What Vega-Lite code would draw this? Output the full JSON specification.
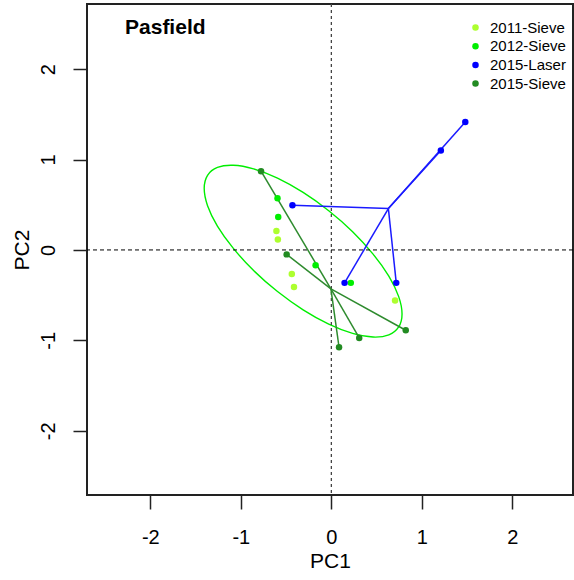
{
  "$schema": "https://vega.github.io/schema/vega-lite/v6.json",
  "width": 486,
  "height": 491,
  "autosize": {"type": "none"},
  "padding": {"left": 87, "top": 4, "right": 1, "bottom": 85},
  "background": "white",
  "config": {
    "view": {"stroke": "#222", "strokeWidth": 2},
    "font": "Liberation Sans",
    "axis": {"grid": false, "domain": false, "ticks": true, "tickColor": "#222", "tickWidth": 1.5, "tickSize": 14,
      "labelFont": "Liberation Sans", "labelFontSize": 20, "labelColor": "#000",
      "labelExpr": "datum.value < 0 ? '-' + (-datum.value) : '' + datum.value",
      "titleFont": "Liberation Sans", "titleFontSize": 21, "titleFontWeight": "normal", "titleColor": "#000"},
    "axisX": {"labelPadding": 18, "labelAngle": 0, "titleBaseline": "alphabetic", "titleY": 72},
    "axisY": {"labelAngle": -90, "labelAlign": "center", "labelBaseline": "bottom", "labelPadding": 15, "titleAngle": -90, "titleBaseline": "alphabetic", "titleX": -59}
  },
  "datasets": {
    "pts": [
      {"group": "2011-Sieve", "x": -0.607, "y": 0.209},
      {"group": "2011-Sieve", "x": -0.591, "y": 0.115},
      {"group": "2011-Sieve", "x": -0.437, "y": -0.266},
      {"group": "2011-Sieve", "x": -0.413, "y": -0.409},
      {"group": "2011-Sieve", "x": 0.704, "y": -0.56},
      {"group": "2012-Sieve", "x": -0.595, "y": 0.573},
      {"group": "2012-Sieve", "x": -0.587, "y": 0.364},
      {"group": "2012-Sieve", "x": -0.174, "y": -0.168},
      {"group": "2012-Sieve", "x": 0.215, "y": -0.364},
      {"group": "2015-Laser", "x": 1.48, "y": 1.415, "cx": 0.63, "cy": 0.458},
      {"group": "2015-Laser", "x": 1.21, "y": 1.1, "cx": 0.63, "cy": 0.458},
      {"group": "2015-Laser", "x": -0.43, "y": 0.495, "cx": 0.63, "cy": 0.458},
      {"group": "2015-Laser", "x": 0.146, "y": -0.364, "cx": 0.63, "cy": 0.458},
      {"group": "2015-Laser", "x": 0.717, "y": -0.364, "cx": 0.63, "cy": 0.458},
      {"group": "2015-Sieve", "x": -0.777, "y": 0.871, "cx": -0.005, "cy": -0.43},
      {"group": "2015-Sieve", "x": -0.494, "y": -0.049, "cx": -0.005, "cy": -0.43},
      {"group": "2015-Sieve", "x": 0.085, "y": -1.076, "cx": -0.005, "cy": -0.43},
      {"group": "2015-Sieve", "x": 0.308, "y": -0.973, "cx": -0.005, "cy": -0.43},
      {"group": "2015-Sieve", "x": 0.822, "y": -0.888, "cx": -0.005, "cy": -0.43}
    ],
    "ellipse": [
      {"t": 0, "x": 0.781, "y": -0.708},
      {"t": 1, "x": 0.744, "y": -0.516},
      {"t": 2, "x": 0.635, "y": -0.29},
      {"t": 3, "x": 0.461, "y": -0.046},
      {"t": 4, "x": 0.235, "y": 0.202},
      {"t": 5, "x": -0.029, "y": 0.434},
      {"t": 6, "x": -0.312, "y": 0.636},
      {"t": 7, "x": -0.595, "y": 0.794},
      {"t": 8, "x": -0.859, "y": 0.897},
      {"t": 9, "x": -1.085, "y": 0.937},
      {"t": 10, "x": -1.259, "y": 0.913},
      {"t": 11, "x": -1.368, "y": 0.826},
      {"t": 12, "x": -1.405, "y": 0.682},
      {"t": 13, "x": -1.368, "y": 0.49},
      {"t": 14, "x": -1.259, "y": 0.264},
      {"t": 15, "x": -1.085, "y": 0.02},
      {"t": 16, "x": -0.859, "y": -0.228},
      {"t": 17, "x": -0.595, "y": -0.46},
      {"t": 18, "x": -0.312, "y": -0.662},
      {"t": 19, "x": -0.029, "y": -0.82},
      {"t": 20, "x": 0.235, "y": -0.923},
      {"t": 21, "x": 0.461, "y": -0.963},
      {"t": 22, "x": 0.635, "y": -0.939},
      {"t": 23, "x": 0.744, "y": -0.852}
    ],
    "title": [{"x": -2.28, "y": 2.46, "label": "Pasfield"}]
  },
  "layer": [
    {
      "data": {"name": "ellipse"},
      "mark": {"type": "line", "interpolate": "cardinal-closed", "stroke": "#00EE00", "strokeWidth": 1.4},
      "encoding": {
        "x": {"field": "x", "type": "quantitative", "scale": {"domain": [-2.7, 2.67], "nice": false, "zero": false}, "axis": {"values": [-2, -1, 0, 1, 2], "title": "PC1"}},
        "y": {"field": "y", "type": "quantitative", "scale": {"domain": [-2.71, 2.72], "nice": false, "zero": false}, "axis": {"values": [-2, -1, 0, 1, 2], "title": "PC2"}},
        "order": {"field": "t", "type": "quantitative"}
      }
    },
    {
      "data": {"values": [{}]},
      "mark": {"type": "rule", "stroke": "#444", "strokeWidth": 1.3, "strokeDash": [3, 3]},
      "encoding": {
        "x": {"datum": 0, "type": "quantitative", "scale": {"domain": [-2.7, 2.67], "nice": false, "zero": false}, "axis": {"values": [-2, -1, 0, 1, 2], "title": "PC1"}}
      }
    },
    {
      "data": {"values": [{}]},
      "mark": {"type": "rule", "stroke": "#000", "strokeWidth": 1, "strokeDash": [4, 3]},
      "encoding": {
        "y": {"datum": 0, "type": "quantitative", "scale": {"domain": [-2.71, 2.72], "nice": false, "zero": false}, "axis": {"values": [-2, -1, 0, 1, 2], "title": "PC2"}}
      }
    },
    {
      "data": {"name": "pts"},
      "transform": [{"filter": "isValid(datum.cx)"}],
      "mark": {"type": "rule", "strokeWidth": 1.5},
      "encoding": {
        "x": {"field": "cx", "type": "quantitative", "scale": {"domain": [-2.7, 2.67], "nice": false, "zero": false}, "axis": {"values": [-2, -1, 0, 1, 2], "title": "PC1"}},
        "y": {"field": "cy", "type": "quantitative", "scale": {"domain": [-2.71, 2.72], "nice": false, "zero": false}, "axis": {"values": [-2, -1, 0, 1, 2], "title": "PC2"}},
        "x2": {"field": "x"},
        "y2": {"field": "y"},
        "color": {"condition": {"test": "datum.group === '2015-Laser'", "value": "#1a1aff"}, "value": "#2e8b2e"}
      }
    },
    {
      "data": {"name": "pts"},
      "mark": {"type": "circle", "size": 42, "opacity": 1},
      "encoding": {
        "x": {"field": "x", "type": "quantitative", "scale": {"domain": [-2.7, 2.67], "nice": false, "zero": false}, "axis": {"values": [-2, -1, 0, 1, 2], "title": "PC1"}},
        "y": {"field": "y", "type": "quantitative", "scale": {"domain": [-2.71, 2.72], "nice": false, "zero": false}, "axis": {"values": [-2, -1, 0, 1, 2], "title": "PC2"}},
        "color": {
          "field": "group", "type": "nominal",
          "scale": {"domain": ["2011-Sieve", "2012-Sieve", "2015-Laser", "2015-Sieve"], "range": ["#ADFF2F", "#00EE00", "#0000FF", "#228B22"]},
          "legend": {"orient": "none", "legendX": 381, "legendY": 16, "title": null, "padding": 0,
            "labelFont": "Liberation Sans", "labelFontSize": 15, "labelColor": "#000", "labelOffset": 7,
            "symbolType": "circle", "symbolSize": 42, "symbolStrokeWidth": 0, "rowPadding": 2.7}
        }
      }
    },
    {
      "data": {"name": "title"},
      "mark": {"type": "text", "align": "left", "baseline": "middle", "fontWeight": "bold", "fontSize": 21, "font": "Liberation Sans", "color": "#000"},
      "encoding": {
        "x": {"field": "x", "type": "quantitative", "scale": {"domain": [-2.7, 2.67], "nice": false, "zero": false}, "axis": {"values": [-2, -1, 0, 1, 2], "title": "PC1"}},
        "y": {"field": "y", "type": "quantitative", "scale": {"domain": [-2.71, 2.72], "nice": false, "zero": false}, "axis": {"values": [-2, -1, 0, 1, 2], "title": "PC2"}},
        "text": {"field": "label"}
      }
    }
  ]
}
